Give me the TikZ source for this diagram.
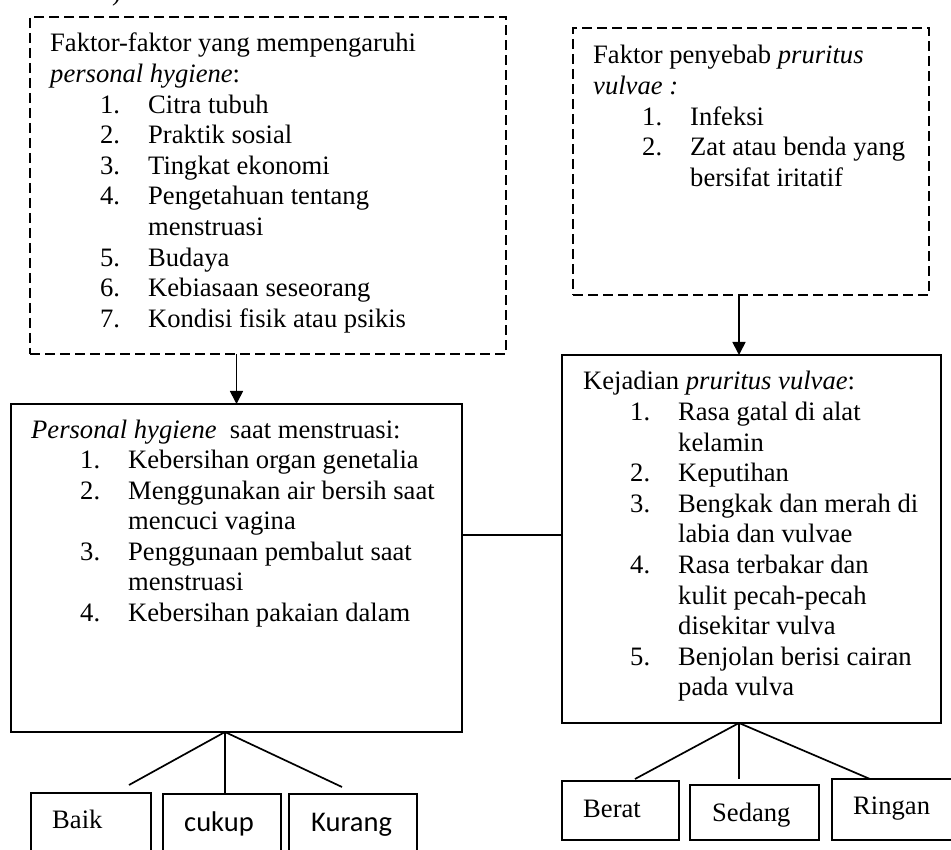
\documentclass[tikz,border=0pt]{standalone}
\usepackage{fontspec}
\setmainfont{Liberation Serif}
\newfontfamily\calibri{Carlito}
\usetikzlibrary{arrows.meta}
\newcommand\judul[1]{\multicolumn{3}{@{}l@{}}{#1}}
\begin{document}
\begin{tikzpicture}[x=1pt, y=-1pt,
    garis/.style={line width=1.7pt},
    box/.style={draw, line width=1.7pt, inner sep=0pt, outer sep=0pt},
    dashbox/.style={box, dash pattern=on 10pt off 5pt},
    txt/.style={anchor=base west, inner sep=0pt, font=\fontsize{26.6}{30.6}\selectfont},
    panah/.style={garis, -{Triangle[length=13pt, width=13pt]}}]
\useasboundingbox (0,0) rectangle (951,850);
\clip (0,0) rectangle (951,850);
\node[txt] (sisa) at (112,1) {)};
% kotak faktor personal hygiene
\node[dashbox, minimum width=476pt, minimum height=337pt] (faktorph) at (268,185.5) {};
\node[txt] (faktorphtxt) at (50,52) {\begin{tabular}[t]{@{}p{50pt}@{}p{48pt}@{}l@{}}
    \judul{Faktor-faktor yang mempengaruhi}\\
    \judul{\textit{personal hygiene}:}\\
    & 1. & Citra tubuh\\
    & 2. & Praktik sosial\\
    & 3. & Tingkat ekonomi\\
    & 4. & Pengetahuan tentang\\
    &    & menstruasi\\
    & 5. & Budaya\\
    & 6. & Kebiasaan seseorang\\
    & 7. & Kondisi fisik atau psikis
  \end{tabular}};
% kotak faktor penyebab pruritus vulvae
\node[dashbox, minimum width=356pt, minimum height=267pt] (penyebab) at (751,161.5) {};
\node[txt] (penyebabtxt) at (593,64) {\begin{tabular}[t]{@{}p{49pt}@{}p{48pt}@{}l@{}}
    \judul{Faktor penyebab \textit{pruritus}}\\
    \judul{\textit{vulvae :}}\\
    & 1. & Infeksi\\
    & 2. & Zat atau benda yang\\
    &    & bersifat iritatif
  \end{tabular}};
% kotak personal hygiene
\node[box, minimum width=451pt, minimum height=328pt] (personal) at (236.5,568) {};
\node[txt] (personaltxt) at (31,438) {\begin{tabular}[t]{@{}p{49pt}@{}p{48pt}@{}l@{}}
    \judul{\textit{Personal hygiene}\ \ saat menstruasi:}\\
    & 1. & Kebersihan organ genetalia\\
    & 2. & Menggunakan air bersih saat\\
    &    & mencuci vagina\\
    & 3. & Penggunaan pembalut saat\\
    &    & menstruasi\\
    & 4. & Kebersihan pakaian dalam
  \end{tabular}};
% kotak kejadian pruritus vulvae
\node[box, minimum width=379pt, minimum height=368pt] (kejadian) at (751.5,539) {};
\node[txt] (kejadiantxt) at (583,390) {\begin{tabular}[t]{@{}p{47pt}@{}p{48pt}@{}l@{}}
    \judul{Kejadian \textit{pruritus vulvae}:}\\
    & 1. & Rasa gatal di alat\\
    &    & kelamin\\
    & 2. & Keputihan\\
    & 3. & Bengkak dan merah di\\
    &    & labia dan vulvae\\
    & 4. & Rasa terbakar dan\\
    &    & kulit pecah-pecah\\
    &    & disekitar vulva\\
    & 5. & Benjolan berisi cairan\\
    &    & pada vulva
  \end{tabular}};
% kategori
\node[box, minimum width=120pt, minimum height=77pt] (baik) at (91,831.5) {};
\node[box, minimum width=118pt, minimum height=76pt] (cukup) at (222,832) {};
\node[box, minimum width=128pt, minimum height=76pt] (kurang) at (353,832) {};
\node[box, minimum width=117pt, minimum height=59pt] (berat) at (620.5,810.5) {};
\node[box, minimum width=129pt, minimum height=55pt] (sedang) at (754.5,812.5) {};
\node[box, minimum width=133pt, minimum height=61pt] (ringan) at (898.5,809.5) {};
\node[txt] (baiktxt) at (52,828) {Baik};
\node[txt, font=\calibri\fontsize{28.5}{34}\selectfont] (cukuptxt) at (184,831) {cukup};
\node[txt, font=\calibri\fontsize{28.5}{34}\selectfont] (kurangtxt) at (311,831) {Kurang};
\node[txt] (berattxt) at (583,817) {Berat};
\node[txt] (sedangtxt) at (712,821) {Sedang};
\node[txt] (ringantxt) at (853,814) {Ringan};
% panah dan garis
\draw[panah] (faktorph.south -| personal.north) -- (personal.north);
\draw[panah] ([xshift=-12pt]penyebab.south) -- ([xshift=-12pt]penyebab.south |- kejadian.north);
\draw[garis] ([yshift=33pt]personal.east) -- ([yshift=33pt]personal.east -| kejadian.west);
\coordinate (jl) at ([xshift=-11.5pt]personal.south);
\coordinate (ujungbaik) at (129,785);
\coordinate (ujungkurang) at (342,787);
\draw[garis] (ujungbaik) -- (jl) -- (ujungkurang);
\draw[garis] (jl) -- (jl |- cukup.north);
\coordinate (jr) at ([xshift=-12.5pt]kejadian.south);
\coordinate (ujungberat) at (635,779);
\coordinate (ujungringan) at (870,779);
\draw[garis] (ujungberat) -- (jr) -- (ujungringan);
\draw[garis] (jr) -- (jr |- ringan.north);
\end{tikzpicture}
\end{document}
